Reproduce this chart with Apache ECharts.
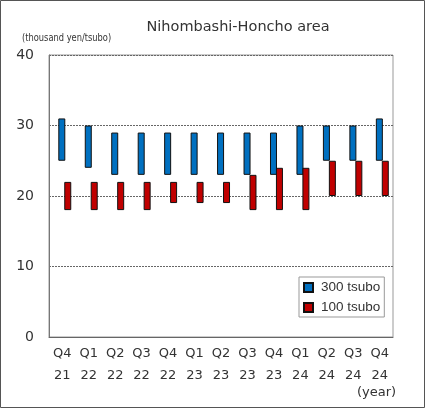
<!DOCTYPE html>
<html lang="en">
  <head>
    <meta charset="UTF-8" />
    <title>Nihombashi-Honcho area</title>
    <script src="https://cdn.jsdelivr.net/npm/echarts@6.0.0/dist/echarts.min.js"></script>
    <style>
      body { margin: 0; }
      #main { width: 425px; height: 408px; }
    </style>
  </head>
  <body>
    <div id="main"></div>
    <script type="text/javascript">
      // quarters along the x axis
      const quarters = ['Q4\n21', 'Q1\n22', 'Q2\n22', 'Q3\n22', 'Q4\n22', 'Q1\n23', 'Q2\n23',
        'Q3\n23', 'Q4\n23', 'Q1\n24', 'Q2\n24', 'Q3\n24', 'Q4\n24'];

      // 300 tsubo range (low / high)
      const low300 = [25, 24, 23, 23, 23, 23, 23, 23, 23, 23, 25, 25, 25];
      const high300 = [31, 30, 29, 29, 29, 29, 29, 29, 29, 30, 30, 30, 31];

      // 100 tsubo range (low / high)
      const low100 = [18, 18, 18, 18, 19, 19, 19, 18, 18, 18, 20, 20, 20];
      const high100 = [22, 22, 22, 22, 22, 22, 22, 23, 24, 24, 25, 25, 25];

      const yTicks = [0, 10, 20, 30, 40];

      const font = 'DejaVu Sans';
      const myChart = echarts.init(document.getElementById('main'));

      // height of the visible part of each stacked bar
      const span = (lo, hi) => hi.map((h, i) => h - lo[i]);

      const barCommon = { type: 'bar', barWidth: 7, barGap: '-15%' };

      const option = {
        animation: false,
        backgroundColor: '#fff',
        textStyle: { fontFamily: font },
        title: {
          text: 'Nihombashi-Honcho area',
          left: 233,
          textAlign: 'center',
          top: 15,
          textStyle: { fontSize: 14.5, fontWeight: 'normal', color: '#333', fontFamily: font },
        },
        legend: {
          data: ['300 tsubo', '100 tsubo'],
          orient: 'vertical',
          left: 299,
          top: 277,
          padding: [3, 4, 2, 4],
          itemGap: 5,
          itemWidth: 9,
          itemHeight: 9,
          icon: 'rect',
          borderColor: '#999',
          borderWidth: 1,
          borderRadius: 0,
          textStyle: {
            fontSize: 13.5, lineHeight: 15, color: '#333',
            fontFamily: 'Liberation Sans', padding: [0, 0, 0, 3],
          },
        },
        grid: {
          left: 49,
          right: 32,
          top: 55,
          bottom: 71,
          show: true,
          borderColor: '#999',
          borderWidth: 1,
        },
        xAxis: {
          type: 'category',
          data: quarters,
          axisLine: { lineStyle: { color: '#666' } },
          axisTick: { inside: true, length: 4, lineStyle: { color: '#666' } },
          axisLabel: { fontSize: 13, color: '#333', lineHeight: 22, margin: 6, interval: 0 },
        },
        yAxis: {
          type: 'value',
          min: yTicks[0],
          max: yTicks[yTicks.length - 1],
          interval: 10,
          axisLine: { show: true, lineStyle: { color: '#777' } },
          axisTick: { show: false },
          axisLabel: { fontSize: 14, color: '#333', margin: 15 },
          splitLine: { lineStyle: { color: '#666', type: [2, 1] } },
        },
        graphic: [
          {
            type: 'rect',
            shape: { x: 0.5, y: 0.5, width: 424, height: 407 },
            style: { fill: 'none', stroke: '#555', lineWidth: 1 },
            silent: true,
          },
          {
            type: 'text',
            x: 22,
            y: 33,
            scaleX: 0.83,
            style: { text: '(thousand yen/tsubo)', fontSize: 10, fill: '#333', fontFamily: font },
          },
          {
            type: 'text',
            left: 357,
            top: 386,
            style: { text: '(year)', fontSize: 13, fill: '#333', fontFamily: font },
          },
        ],
        series: [
          {
            // empty slot so each pair sits right of the category centre, as in the source
            type: 'bar',
            name: 'pad',
            stack: 'pad',
            barWidth: 6,
            barGap: '-15%',
            silent: true,
            itemStyle: { color: 'transparent' },
            data: quarters.map(() => 0),
          },
          {
            ...barCommon,
            name: 'base300',
            stack: 's300',
            silent: true,
            itemStyle: { color: 'transparent' },
            data: low300,
          },
          {
            ...barCommon,
            name: '300 tsubo',
            stack: 's300',
            itemStyle: { color: '#0070c0', borderColor: '#111', borderWidth: 1 },
            data: span(low300, high300),
          },
          {
            ...barCommon,
            name: 'base100',
            stack: 's100',
            silent: true,
            itemStyle: { color: 'transparent' },
            data: low100,
          },
          {
            ...barCommon,
            name: '100 tsubo',
            stack: 's100',
            itemStyle: { color: '#c00000', borderColor: '#111', borderWidth: 1 },
            data: span(low100, high100),
          },
        ],
      };

      myChart.setOption(option);
    </script>
  </body>
</html>
